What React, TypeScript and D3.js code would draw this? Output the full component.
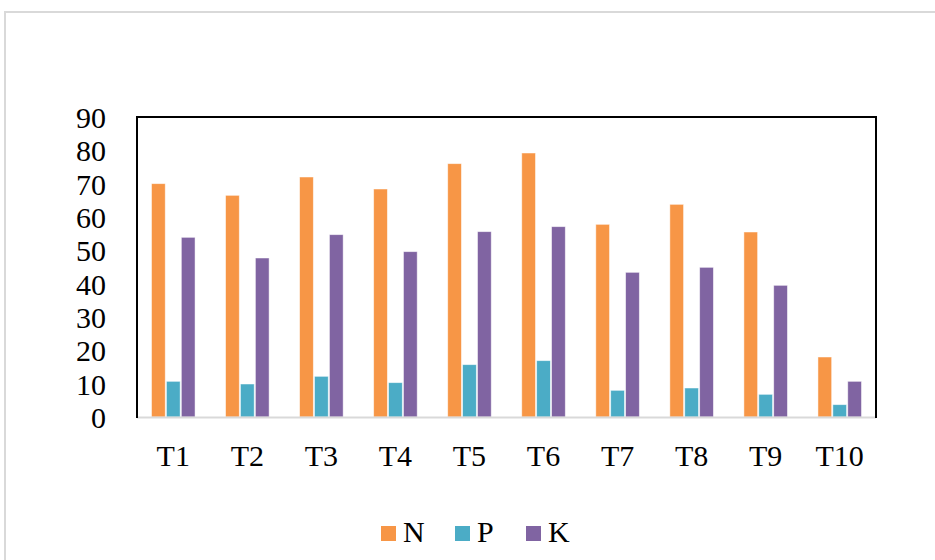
import React, { useEffect, useRef } from "react";
import * as d3 from "d3";

const categories = ["T1", "T2", "T3", "T4", "T5", "T6", "T7", "T8", "T9", "T10"];
const seriesNames = ["N", "P", "K"];
const nValues = [70, 66.5, 72, 68.4, 76, 79.2, 57.8, 63.8, 55.5, 18];
const pValues = [10.7, 9.9, 12.2, 10.3, 15.7, 16.9, 8, 8.7, 6.8, 3.7];
const kValues = [53.9, 47.7, 54.7, 49.6, 55.6, 57.1, 43.4, 44.9, 39.5, 10.7];
const yTicks = [0, 10, 20, 30, 40, 50, 60, 70, 80, 90];
const colors = ["#F79646", "#4BACC6", "#8064A2"];

export default function App() {
  const svgRef = useRef(null);

  useEffect(() => {
    const svg = d3.select(svgRef.current);
    const width = 935;
    const height = 560;
    const margin = { top: 117, right: 59, bottom: 143, left: 137 };
    const font = "'Liberation Serif', 'Times New Roman', serif";

    svg.selectAll("*").remove();

    // outer frame of the figure
    svg
      .append("path")
      .attr("d", `M5,${height} V12 H${width}`)
      .attr("fill", "none")
      .attr("stroke", "#d9d9d9")
      .attr("stroke-width", 2);

    const x = d3
      .scaleBand()
      .domain(categories)
      .range([margin.left, width - margin.right])
      .paddingInner(0.38)
      .paddingOuter(0.18);

    const xInner = d3.scaleBand().domain(seriesNames).range([0, x.bandwidth()]).padding(0.08);

    const y = d3.scaleLinear().domain([0, 90]).range([height - margin.bottom, margin.top]);

    const series = [nValues, pValues, kValues];
    const rows = categories.map((c, i) => ({ c, vals: series.map((s) => s[i]) }));

    const groups = svg
      .selectAll("g.cat")
      .data(rows)
      .enter()
      .append("g")
      .attr("class", "cat")
      .attr("transform", (d) => `translate(${x(d.c)},0)`);

    groups
      .selectAll("rect")
      .data((d) => d.vals.map((v, j) => ({ key: seriesNames[j], v, j })))
      .enter()
      .append("rect")
      .attr("x", (d) => xInner(d.key))
      .attr("y", (d) => y(d.v))
      .attr("width", xInner.bandwidth())
      .attr("height", (d) => y(0) - y(d.v))
      .attr("fill", (d) => colors[d.j])
      .attr("stroke", "#ffffff")
      .attr("stroke-opacity", 0.6)
      .attr("stroke-width", 0.8);

    // bottom axis line
    svg
      .append("line")
      .attr("x1", margin.left)
      .attr("x2", width - margin.right)
      .attr("y1", y(0) + 0.5)
      .attr("y2", y(0) + 0.5)
      .attr("stroke", "#d9d9d9")
      .attr("stroke-width", 2);

    // black box on left, top, right
    svg
      .append("path")
      .attr(
        "d",
        `M${margin.left},${y(0) + 1} V${margin.top} H${width - margin.right} V${y(0) + 1}`
      )
      .attr("fill", "none")
      .attr("stroke", "#000")
      .attr("stroke-width", 2);

    svg
      .append("g")
      .selectAll("text")
      .data(yTicks)
      .enter()
      .append("text")
      .attr("x", 106)
      .attr("y", (d) => y(d) + 11)
      .attr("text-anchor", "end")
      .attr("font-family", font)
      .attr("font-size", 30)
      .attr("fill", "#000")
      .text((d) => d);

    svg
      .append("g")
      .selectAll("text")
      .data(categories)
      .enter()
      .append("text")
      .attr("x", (d) => x(d) + x.bandwidth() / 2)
      .attr("y", 466)
      .attr("text-anchor", "middle")
      .attr("font-family", font)
      .attr("font-size", 30)
      .attr("fill", "#000")
      .text((d) => d);

    const legendX = [381, 455, 526];
    const legend = svg
      .append("g")
      .selectAll("g")
      .data(seriesNames)
      .enter()
      .append("g")
      .attr("transform", (d, i) => `translate(${legendX[i]},526)`);

    legend
      .append("rect")
      .attr("width", 15)
      .attr("height", 15)
      .attr("fill", (d, i) => colors[i]);

    legend
      .append("text")
      .attr("x", 22)
      .attr("y", 16)
      .attr("font-family", font)
      .attr("font-size", 30)
      .attr("fill", "#000")
      .text((d) => d);
  }, []);

  return (
    <svg
      ref={svgRef}
      width="935"
      height="560"
      style={{ position: "absolute", left: 0, top: 0, background: "#fff" }}
    />
  );
}
